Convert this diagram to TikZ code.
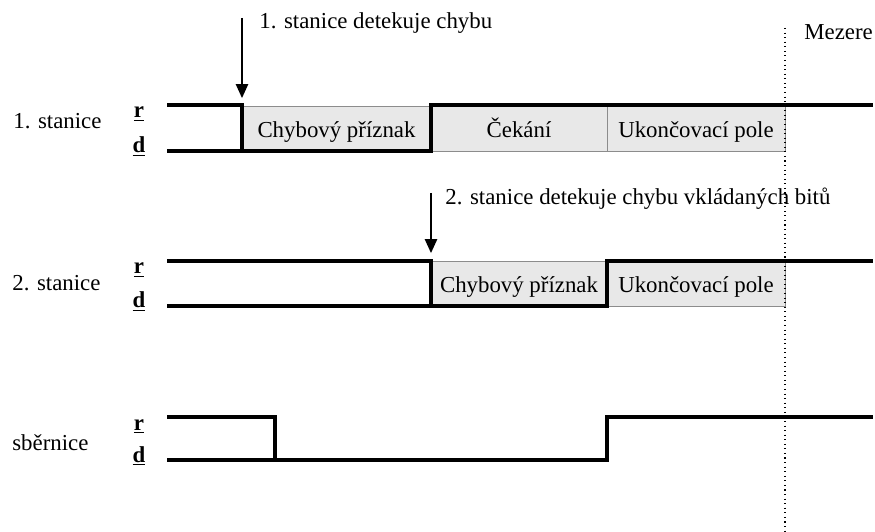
\documentclass[tikz,border=0pt]{standalone}
\usepackage{fontspec}
\setmainfont{Liberation Serif}
\usetikzlibrary{arrows.meta, positioning}

\begin{document}
\begin{tikzpicture}[font=\fontsize{13}{15.6}\selectfont, node distance=0pt,
	signal/.style={line width=2pt, line join=miter},
	field/.style={draw=black!45, line width=0.5pt, fill=black!9, minimum height=0.9cm, inner sep=0pt, outer sep=0pt, text height=0.42cm, text depth=0.04cm},
	level/.style={anchor=base, inner sep=0pt, font=\fontsize{13}{15.6}\selectfont\bfseries},
	label/.style={anchor=base west, inner sep=0pt},
	detect/.style={-{Triangle[length=8pt,width=7pt]}, line width=1pt, shorten >=4.5pt}]
	\useasboundingbox (0,0) rectangle (17.5,10.62);

	% fields of the two stations
	\node[field, minimum width=3.78cm, anchor=south west] (err1) at (4.84,7.60) {Chybový příznak};
	\node[field, minimum width=3.52cm, right=of err1] (wait1) {Čekání\hspace{0.6cm}};
	\node[field, minimum width=3.56cm, right=of wait1] (end1) {Ukončovací pole};
	\node[field, minimum width=3.52cm, anchor=south west] (err2) at (8.62,4.50) {Chybový příznak};
	\node[field, minimum width=3.56cm, right=of err2] (end2) {Ukončovací pole};

	% levels r / d
	\draw[signal] (3.34,8.52) -- (4.84,8.52) -- (4.84,7.60) -- (8.62,7.60) -- (8.62,8.52) -- (17.46,8.52);
	\draw[signal] (3.34,7.60) -- (4.84,7.60);
	\draw[signal] (3.34,5.40) -- (8.62,5.40) -- (8.62,4.50) -- (12.14,4.50) -- (12.14,5.40) -- (17.46,5.40);
	\draw[signal] (3.34,4.50) -- (8.62,4.50);
	\draw[signal] (3.34,2.28) -- (5.50,2.28) -- (5.50,1.42) -- (12.14,1.42) -- (12.14,2.28) -- (17.46,2.28);
	\draw[signal] (3.34,1.42) -- (5.50,1.42);

	\foreach \r/\d [count=\i] in {8.52/7.60, 5.40/4.50, 2.28/1.42} {
		\node[level] (r\i) at (2.78,\r-0.26) {\underline{r}};
		\node[level] (d\i) at (2.78,\d-0.04) {\underline{d}};
	}
	\node[label] (st1) at (0.26,8.04) {1. stanice};
	\node[label] (st2) at (0.24,4.80) {2. stanice};
	\node[label] (bus) at (0.24,1.62) {sběrnice};

	% detected errors
	\coordinate (hit1) at (4.84,10.26);
	\coordinate (hit2) at (8.62,6.76);
	\draw[detect] (hit1) -- (err1.north west);
	\draw[detect] (hit2) -- (err2.north west);
	\node[label] (note1) at (5.18,10.04) {1. stanice detekuje chybu};
	\node[label] (note2) at (8.90,6.52) {2. stanice detekuje chybu vkládaných bitů};

	% interframe space
	\coordinate (gap) at (15.70,10.06);
	\coordinate (gapend) at (15.70,0);
	\draw[dotted, line width=0.6pt] (gap) -- (gapend);
	\node[label] (space) at (16.08,9.82) {Mezere};
\end{tikzpicture}
\end{document}
